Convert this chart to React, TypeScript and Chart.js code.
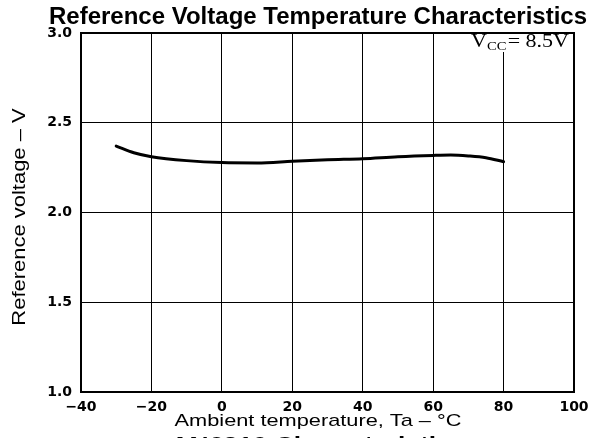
import React, { useEffect, useRef } from "react";
import { Chart, registerables } from "chart.js";

Chart.register(...registerables);

// ---- data ----
const temperatures = [-30, -25, -20, -10, 0, 10, 20, 30, 40, 50, 60, 65, 70, 75, 80];
const referenceVoltages = [2.37, 2.333, 2.311, 2.289, 2.278, 2.276, 2.285, 2.294, 2.3, 2.311, 2.318, 2.32, 2.315, 2.305, 2.283];
const xRange = [-40, 100];
const xStep = 20;
const yRange = [1.0, 3.0];
const yStep = 0.5;

const chartTitle = "Reference Voltage Temperature Characteristics";
const xTitle = "Ambient temperature, Ta \u2013 \u00B0C";
const yTitle = "Reference voltage \u2013 V";
const conditionMain = "V";
const conditionSub = "CC";
const conditionRest = "= 8.5V";
const footerText = "AN6310 Characteristics";

const SANS = '"Liberation Sans", Arial, sans-serif';
const TICK = '"DejaVu Sans", sans-serif';
const SERIF = '"Liberation Serif", "Times New Roman", serif';

function drawStretched(
  ctx: CanvasRenderingContext2D,
  text: string,
  x: number,
  y: number,
  font: string,
  sx: number,
  align: CanvasTextAlign,
  baseline: CanvasTextBaseline,
  rotate = false
) {
  ctx.save();
  ctx.font = font;
  ctx.translate(x, y);
  if (rotate) ctx.rotate(-Math.PI / 2);
  ctx.scale(sx, 1);
  ctx.textAlign = align;
  ctx.textBaseline = baseline;
  ctx.fillStyle = "#000";
  ctx.fillText(text, 0, 0);
  ctx.restore();
}

const textPlugin = {
  id: "textPlugin",
  beforeDatasetsDraw(chart: any) {
    const ctx: CanvasRenderingContext2D = chart.ctx;
    const a = chart.chartArea;
    ctx.save();
    const mainFont = `18px ${SERIF}`;
    const subFont = `12px ${SERIF}`;
    ctx.font = mainFont;
    const wV = ctx.measureText(conditionMain).width;
    const wRest = ctx.measureText(conditionRest).width;
    ctx.font = subFont;
    const wSub = ctx.measureText(conditionSub).width;
    const natural = wV + wSub + 1 + wRest;
    const right = a.right - 5;
    const left = a.right - 103;
    const sx = (right - left) / natural;
    ctx.fillStyle = "#fff";
    ctx.fillRect(left - 4, a.top + 1, a.right - 1 - (left - 4), 18);
    const base = a.top + 14;
    ctx.translate(left, base);
    ctx.scale(sx, 1);
    ctx.fillStyle = "#000";
    ctx.textBaseline = "alphabetic";
    ctx.textAlign = "left";
    ctx.font = mainFont;
    ctx.fillText(conditionMain, 0, 0);
    ctx.font = subFont;
    ctx.fillText(conditionSub, wV, 3);
    ctx.font = mainFont;
    ctx.fillText(conditionRest, wV + wSub + 1, 0);
    ctx.restore();
  },
  afterDraw(chart: any) {
    const ctx: CanvasRenderingContext2D = chart.ctx;
    const a = chart.chartArea;
    ctx.save();
    ctx.strokeStyle = "#000";
    ctx.lineWidth = 2;
    ctx.strokeRect(a.left, a.top, a.right - a.left, a.bottom - a.top);
    ctx.restore();
    drawStretched(ctx, chartTitle, 318, 24, `bold 24px ${SANS}`, 1, "center", "alphabetic");
    drawStretched(ctx, xTitle, 318, 426, `17px ${SANS}`, 1.28, "center", "alphabetic");
    drawStretched(ctx, yTitle, 25, 217, `18px ${SANS}`, 1.22, "center", "alphabetic", true);
    drawStretched(ctx, footerText, 318, 435, `bold 22px ${SANS}`, 1.2, "center", "top");
  },
};

export default function App() {
  const canvasRef = useRef<HTMLCanvasElement | null>(null);

  useEffect(() => {
    document.body.style.margin = "0";
    document.body.style.background = "#fff";
    const canvas = canvasRef.current;
    if (!canvas) return;
    const chart = new Chart(canvas, {
      type: "line",
      data: {
        datasets: [
          {
            data: temperatures.map((t, i) => ({ x: t, y: referenceVoltages[i] })),
            borderColor: "#000",
            borderWidth: 3,
            pointRadius: 0,
            fill: false,
            cubicInterpolationMode: "monotone",
            borderCapStyle: "round",
          },
        ],
      },
      options: {
        responsive: false,
        animation: false,
        devicePixelRatio: 1,
        layout: { padding: { left: 0, top: 33, right: 24, bottom: 0 } },
        plugins: {
          legend: { display: false },
          title: { display: false },
          tooltip: { enabled: false },
        },
        scales: {
          x: {
            type: "linear",
            min: xRange[0],
            max: xRange[1],
            afterFit: (s: any) => {
              s.height = 46;
            },
            ticks: {
              stepSize: xStep,
              padding: 7,
              color: "#000",
              font: { family: TICK, size: 14, weight: "bold" },
              callback: (v: any) => String(v).replace("-", "\u2212"),
              maxRotation: 0,
            },
            grid: { color: "#000", lineWidth: 1, drawTicks: false },
            border: { display: true, color: "#000", width: 2 },
          },
          y: {
            type: "linear",
            min: yRange[0],
            max: yRange[1],
            afterFit: (s: any) => {
              s.width = 81;
            },
            ticks: {
              stepSize: yStep,
              padding: 9,
              color: "#000",
              font: { family: TICK, size: 14, weight: "bold" },
              callback: (v: any) => Number(v).toFixed(1),
            },
            grid: { color: "#000", lineWidth: 1, drawTicks: false },
            border: { display: true, color: "#000", width: 2 },
          },
        },
      },
      plugins: [textPlugin],
    } as any);
    return () => chart.destroy();
  }, []);

  return (
    <div style={{ width: 598, height: 438 }}>
      <canvas ref={canvasRef} width={598} height={438} style={{ display: "block" }} />
    </div>
  );
}
